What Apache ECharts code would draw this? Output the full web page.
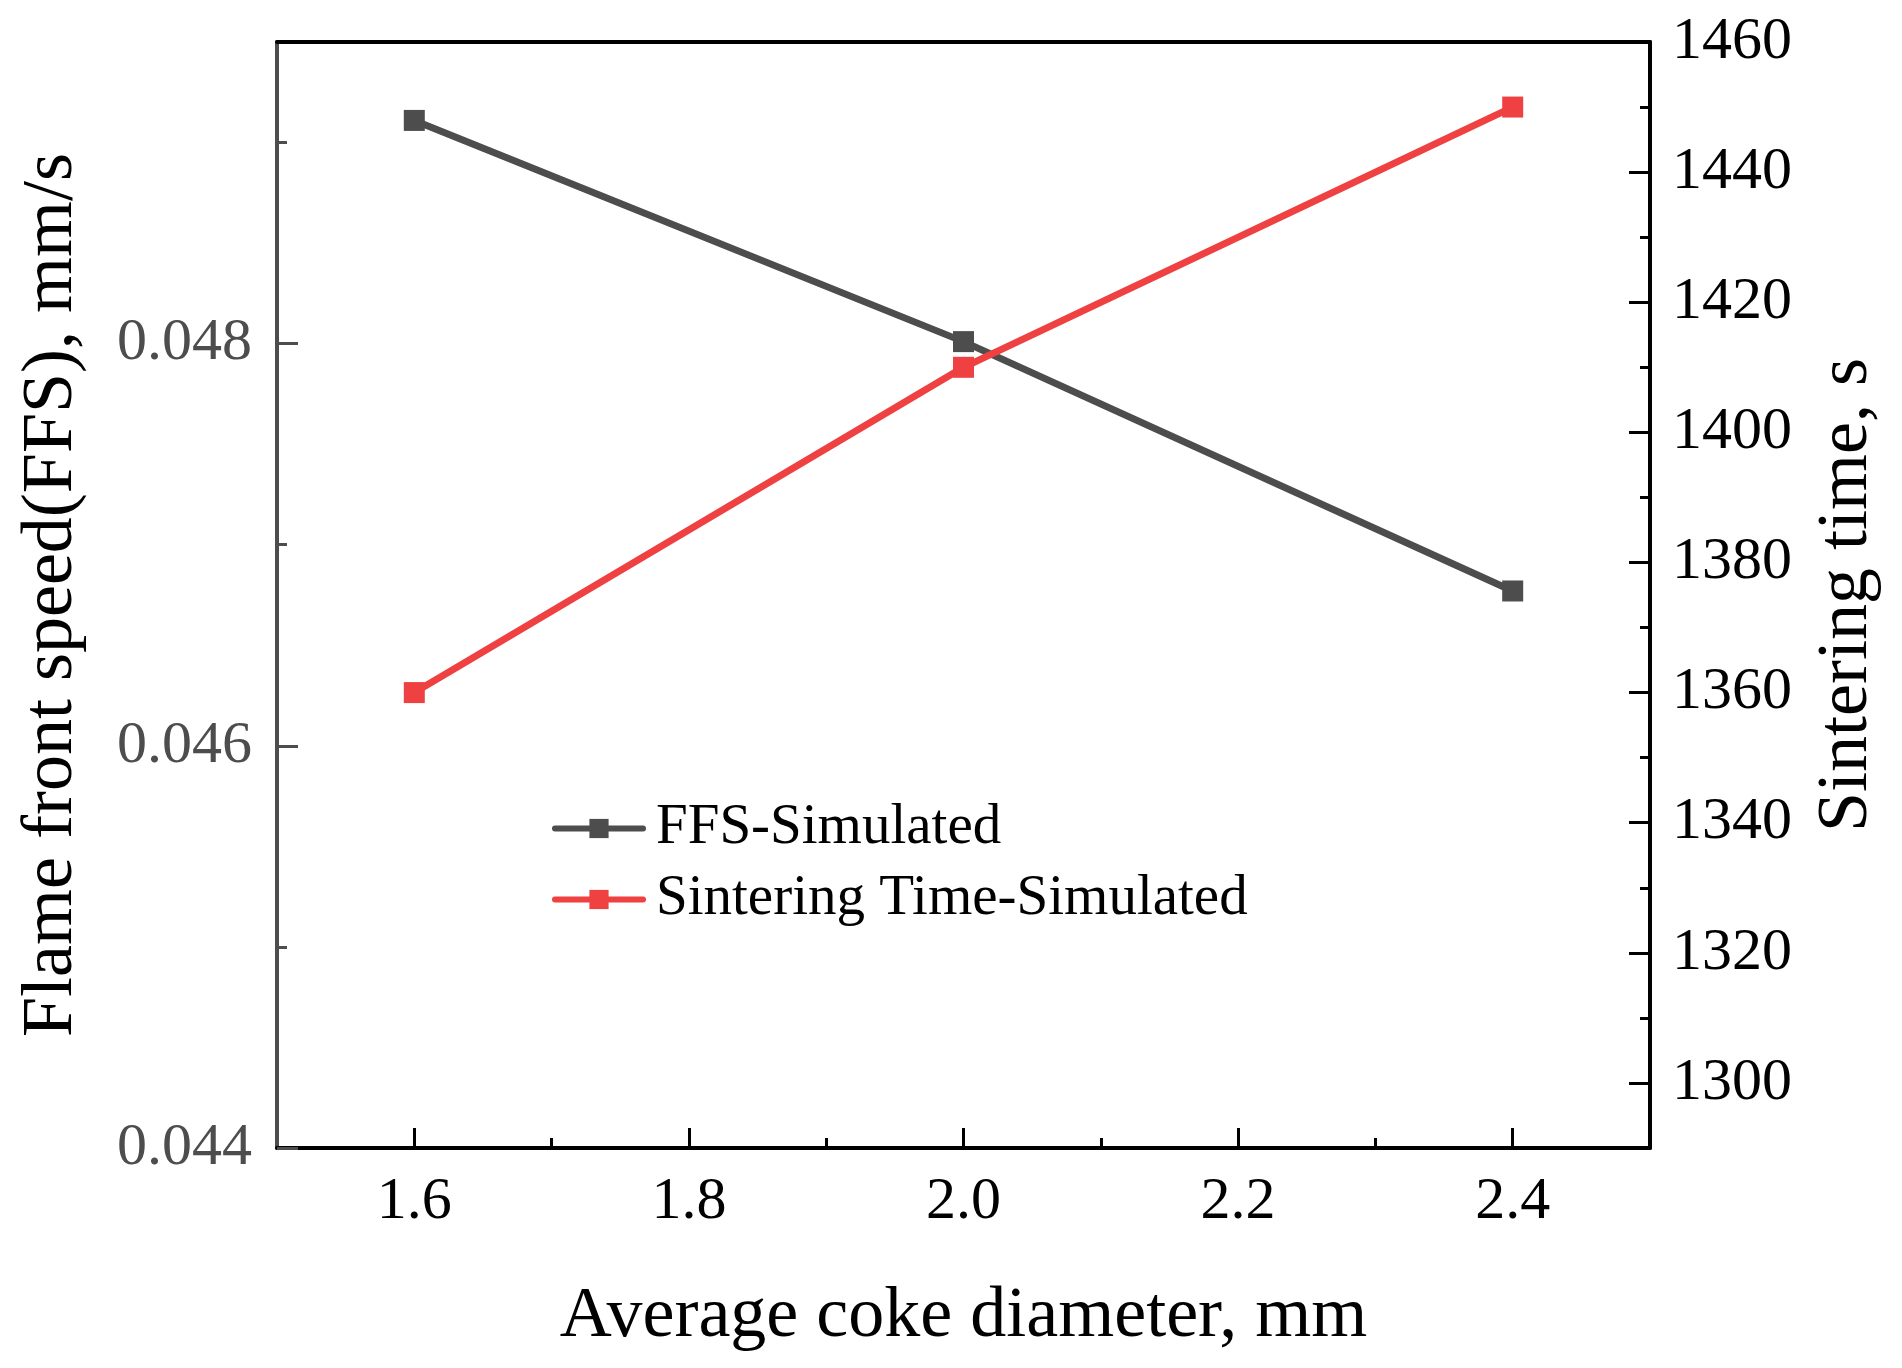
<!DOCTYPE html>
<html>
<head>
<meta charset="utf-8">
<script src="https://cdn.jsdelivr.net/npm/echarts@6/dist/echarts.min.js"></script>
<style>
html,body{margin:0;padding:0;background:#fff;}
#chart{width:1902px;height:1368px;}
</style>
</head>
<body>
<div id="chart"></div>
<script>
// ---- data ----
var cokeDiameter = [1.6, 2.0, 2.4];
var ffsSimulated = [0.04911, 0.04801, 0.04677];
var sinteringTimeSimulated = [1360, 1410, 1450];

// ---- ticks ----
var xMajorTicks = [1.6, 1.8, 2.0, 2.2, 2.4];
var xMinorTicks = [1.7, 1.9, 2.1, 2.3];
var leftMajorTicks = [0.044, 0.046, 0.048];
var leftMinorTicks = [0.045, 0.047, 0.049];
var rightMajorTicks = [1300, 1320, 1340, 1360, 1380, 1400, 1420, 1440, 1460];
var rightMinorTicks = [1310, 1330, 1350, 1370, 1390, 1410, 1430, 1450];

var FONT = '"Liberation Serif", "Times New Roman", serif';
var GRAY = '#4d4d4d';
var BLACK = '#000000';
var RED = '#ef4141';

function pairs(xs, ys) {
  return xs.map(function (x, i) { return [x, ys[i]]; });
}

var chart = echarts.init(document.getElementById('chart'), null, {renderer: 'canvas'});

var option = {
  animation: false,
  backgroundColor: '#ffffff',
  grid: {left: 277, right: 252, top: 42, bottom: 220},
  legend: {
    orient: 'vertical',
    left: 547,
    top: 795,
    itemWidth: 88,
    itemHeight: 24,
    itemGap: 14,
    lineStyle: {width: 6, cap: 'round'},
    textStyle: {fontFamily: FONT, fontSize: 57, color: BLACK, padding: [0, 0, 0, 8]},
    data: ['FFS-Simulated', 'Sintering Time-Simulated']
  },
  xAxis: [
    {
      type: 'value', position: 'bottom', min: 1.5, max: 2.5,
      name: 'Average coke diameter, mm', nameLocation: 'middle', nameGap: 133,
      nameTextStyle: {fontFamily: FONT, fontSize: 72, color: BLACK},
      axisLine: {show: true, lineStyle: {color: BLACK, width: 4}},
      axisTick: {show: true, inside: true, length: 20, lineStyle: {color: BLACK, width: 3}, customValues: xMajorTicks},
      axisLabel: {show: true, margin: 24, fontFamily: FONT, fontSize: 60, color: BLACK,
        customValues: xMajorTicks, formatter: function (v) { return v.toFixed(1); }},
      splitLine: {show: false}
    },
    {
      type: 'value', position: 'bottom', min: 1.5, max: 2.5,
      axisLine: {show: false},
      axisTick: {show: true, inside: true, length: 10, lineStyle: {color: BLACK, width: 3}, customValues: xMinorTicks},
      axisLabel: {show: false},
      splitLine: {show: false}
    },
    {
      type: 'value', position: 'top', min: 1.5, max: 2.5,
      axisLine: {show: true, lineStyle: {color: BLACK, width: 4}},
      axisTick: {show: false},
      axisLabel: {show: false},
      splitLine: {show: false}
    }
  ],
  yAxis: [
    {
      type: 'value', position: 'left', min: 0.044, max: 0.0495,
      name: 'Flame front speed(FFS), mm/s', nameLocation: 'middle', nameGap: 189,
      nameTextStyle: {fontFamily: FONT, fontSize: 72, color: BLACK},
      axisLine: {show: true, lineStyle: {color: GRAY, width: 4}},
      axisTick: {show: true, inside: true, length: 21, lineStyle: {color: GRAY, width: 3}, customValues: leftMajorTicks},
      axisLabel: {show: true, margin: 25, fontFamily: FONT, fontSize: 60, color: GRAY,
        customValues: leftMajorTicks, formatter: function (v) { return v.toFixed(3); }},
      splitLine: {show: false}
    },
    {
      type: 'value', position: 'right', min: 1290, max: 1460,
      name: 'Sintering time, s', nameLocation: 'middle', nameGap: 161, nameRotate: 90,
      nameTextStyle: {fontFamily: FONT, fontSize: 72, color: BLACK},
      axisLine: {show: true, lineStyle: {color: BLACK, width: 4}},
      axisTick: {show: true, inside: true, length: 21, lineStyle: {color: BLACK, width: 3}, customValues: rightMajorTicks},
      axisLabel: {show: true, margin: 22, fontFamily: FONT, fontSize: 60, color: BLACK,
        customValues: rightMajorTicks, formatter: function (v) { return String(v); }},
      splitLine: {show: false}
    },
    {
      type: 'value', position: 'left', min: 0.044, max: 0.0495,
      axisLine: {show: false},
      axisTick: {show: true, inside: true, length: 10, lineStyle: {color: GRAY, width: 3}, customValues: leftMinorTicks},
      axisLabel: {show: false},
      splitLine: {show: false}
    },
    {
      type: 'value', position: 'right', min: 1290, max: 1460,
      axisLine: {show: false},
      axisTick: {show: true, inside: true, length: 10, lineStyle: {color: BLACK, width: 3}, customValues: rightMinorTicks},
      axisLabel: {show: false},
      splitLine: {show: false}
    }
  ],
  series: [
    {
      name: 'FFS-Simulated', type: 'line', xAxisIndex: 0, yAxisIndex: 0,
      data: pairs(cokeDiameter, ffsSimulated),
      symbol: 'rect', symbolSize: 21,
      lineStyle: {color: GRAY, width: 7},
      itemStyle: {color: GRAY},
      z: 3
    },
    {
      name: 'Sintering Time-Simulated', type: 'line', xAxisIndex: 0, yAxisIndex: 1,
      data: pairs(cokeDiameter, sinteringTimeSimulated),
      symbol: 'rect', symbolSize: 21,
      lineStyle: {color: RED, width: 7},
      itemStyle: {color: RED},
      z: 4
    }
  ]
};
chart.setOption(option);
</script>
</body>
</html>
